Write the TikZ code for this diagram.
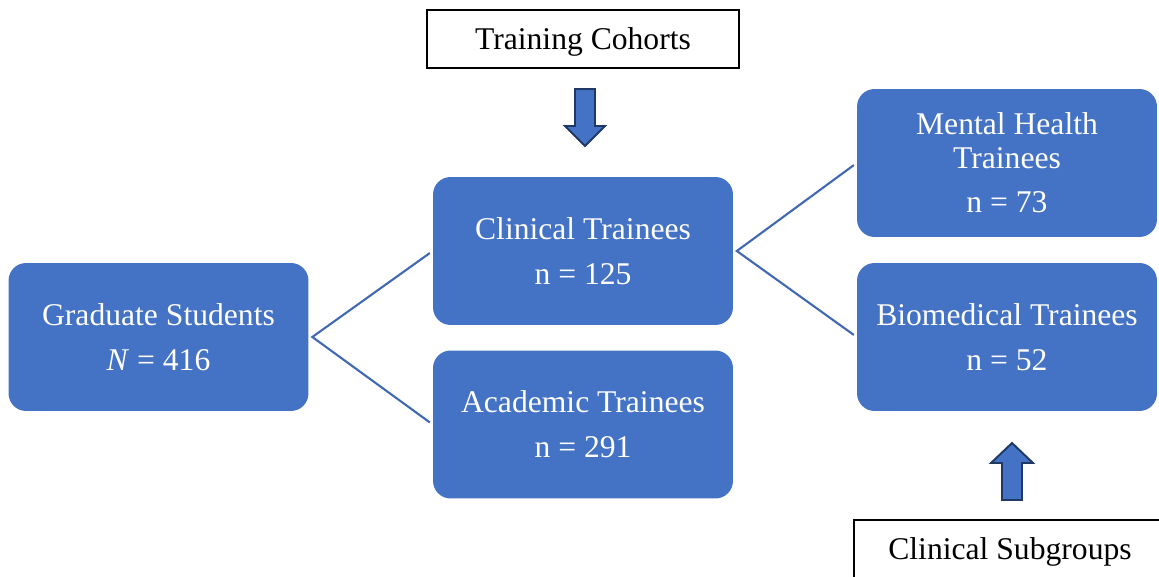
\documentclass[tikz,border=0pt]{standalone}
\usepackage{fontspec}
\setmainfont{Liberation Serif}
\usepackage{tikz}
\usetikzlibrary{positioning}
\definecolor{boxblue}{HTML}{4472C4}
\definecolor{linkblue}{HTML}{4169B3}
\definecolor{navy}{HTML}{1F3864}
\tikzset{
  group/.style={
    rectangle, rounded corners=10pt,
    minimum width=6cm, minimum height=2.96cm,
    align=center, fill=boxblue, text=white,
    font=\fontsize{18}{19}\selectfont,
  },
  label/.style={
    rectangle, draw=black, line width=0.8pt, fill=white,
    minimum width=6.24cm, minimum height=1.16cm, text depth=0pt,
    align=center, font=\fontsize{18}{19}\selectfont,
  },
  link/.style={draw=linkblue, line width=1.2pt, shorten <=2pt, shorten >=2pt},
  fatarrow/.style={fill=boxblue, draw=navy, line width=1.1pt, line join=miter},
}
\begin{document}
\begin{tikzpicture}[x=0.02cm, y=-0.02cm]
  \clip (0,0) rectangle (1159,577);
  \useasboundingbox (0,0) rectangle (1159,577);

  % groups
  \node[group] (grad) at (158.5,337) {Graduate Students\\[6.5pt]\textit{N} = 416};
  \node[group] (clin) at (583,251) {Clinical Trainees\\[6.5pt]n = 125};
  \node[group] (acad) at (583,424.5) {Academic Trainees\\[6.5pt]n = 291};
  \node[group] (ment) at (1007,163) {Mental Health\\Trainees\\[6.5pt]n = 73};
  \node[group] (biom) at (1007,337) {Biomedical Trainees\\[6.5pt]n = 52};

  % headings
  \node[label] (cohorts) at (583,39) {Training Cohorts};
  \node[label] (subgroups) at (1010,549) {Clinical Subgroups};

  % links
  \draw[link] (acad.west) -- ([xshift=2pt]grad.east) -- (clin.west);
  \draw[link] (ment.west) -- ([xshift=2pt]clin.east) -- (biom.west);

  % block arrows
  \draw[fatarrow] (575,89) -- (595,89) -- (595,126) -- (605,126) -- (585,146)
    -- (565,126) -- (575,126) -- cycle;
  \draw[fatarrow] (1002,500) -- (1022,500) -- (1022,463) -- (1033,463) -- (1012,443)
    -- (991,463) -- (1002,463) -- cycle;

\end{tikzpicture}
\end{document}
